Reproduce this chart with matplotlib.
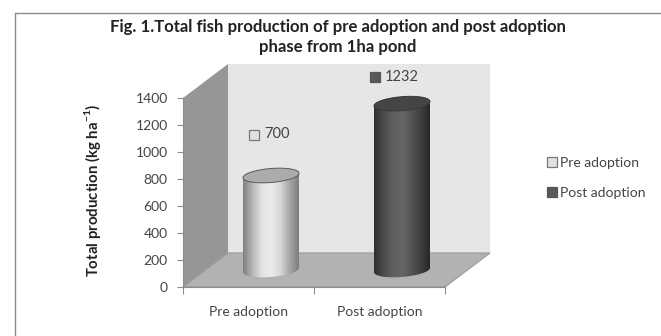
import numpy as np
import matplotlib
matplotlib.use("Agg")
import matplotlib.pyplot as plt
from matplotlib.patches import Polygon, Patch
from matplotlib.lines import Line2D
from matplotlib.colors import LinearSegmentedColormap

categories = ["Pre adoption", "Post adoption"]
production = [700, 1232]
y_ticks = [0, 200, 400, 600, 800, 1000, 1200, 1400]
title = "Fig. 1.Total fish production of pre adoption and post adoption\nphase from 1ha pond"
y_label = "Total production (kg ha$^{-1}$)"

plt.rcParams['font.family'] = ['Lato', 'DejaVu Sans']
plt.rcParams['mathtext.fontset'] = 'custom'
plt.rcParams['mathtext.rm'] = 'Lato:bold'

W, H = 661, 336
fig = plt.figure(figsize=(W/100, H/100), dpi=100)
ax = fig.add_axes([183/W, (H-287)/H, 262/W, 189/H])
ax.set_xlim(0, 2)
ax.set_ylim(0, 1400)

# data units per pixel, the 3d look is just offsets on top of the axes
ux = 2/262
uy = 1400/189
depth_x, depth_y = 45*ux, 34*uy
top = 1400

# walls and floor
ax.add_patch(Polygon([(depth_x, depth_y), (2+depth_x, depth_y), (2+depth_x, top+depth_y), (depth_x, top+depth_y)],
                     fc="#e6e6e6", ec="none", clip_on=False, zorder=1))
ax.add_patch(Polygon([(0, 0), (depth_x, depth_y), (depth_x, top+depth_y), (0, top)],
                     fc="#969696", ec="none", clip_on=False, zorder=1))
ax.add_patch(Polygon([(0, 0), (2, 0), (2+depth_x, depth_y), (depth_x, depth_y)],
                     fc="#b2b2b2", ec="#9a9a9a", lw=0.8, clip_on=False, zorder=1))

pre_cmap = LinearSegmentedColormap.from_list("pre", ["#7f7f7f", "#b5b5b5", "#e2e2e2", "#ececec", "#d8d8d8", "#a8a8a8", "#7c7c7c"])
post_cmap = LinearSegmentedColormap.from_list("post", ["#2e2e2e", "#4a4a4a", "#5f5f5f", "#666666", "#555555", "#404040", "#262626"])
cmaps = [pre_cmap, post_cmap]
cap_colors = ["#ababab", "#454545"]
cap_edges = ["#5a5a5a", "#3a3a3a"]

radius, semi, tilt = 28, 7, 2.2
t = np.linspace(0, 2*np.pi, 121)

def ring(cx, cy, tt):
    xs = cx + radius*ux*np.cos(tt)
    ys = cy + (semi*np.sin(tt) + tilt*np.cos(tt))*uy
    return np.column_stack([xs, ys])

# cylinders
for i, val in enumerate(production):
    cx = i + 0.5 + depth_x/2
    base = depth_y/2
    lower = ring(cx, base, np.linspace(np.pi, 2*np.pi, 61))
    upper = ring(cx, base+val, np.linspace(0, np.pi, 61))
    body = Polygon(np.vstack([lower, upper]), fc="none", ec="none", zorder=3)
    ax.add_patch(body)
    body.set_clip_on(False)
    img = ax.imshow(np.linspace(0, 1, 256).reshape(1, -1), cmap=cmaps[i], aspect="auto", zorder=3,
                    extent=[cx-radius*ux, cx+radius*ux, -20, val+300])
    img.set_clip_path(body)
    ax.add_patch(Polygon(ring(cx, base+val, t), fc=cap_colors[i], ec=cap_edges[i], lw=0.7,
                         clip_on=False, zorder=4))
ax.set_xlim(0, 2)
ax.set_ylim(0, 1400)

# value labels with their little square keys
label_offsets = [(253-270, 41), (374-401, 27)]
key_colors = ["#e2e2e2", "#595959"]
key_edges = ["#777777", "#555555"]
for i, val in enumerate(production):
    cx = i + 0.5 + depth_x/2
    ly = depth_y/2 + val + label_offsets[i][1]*uy
    lx = cx + label_offsets[i][0]*ux
    ax.plot([lx], [ly], "s", ms=6.5, mfc=key_colors[i], mec=key_edges[i], mew=0.9, clip_on=False, zorder=5)
    ax.text(lx + 10*ux, ly, str(val), fontsize=10.5, color="#444444", va="center", ha="left", zorder=5)

for s in ["top", "right"]:
    ax.spines[s].set_visible(False)
for s in ["left", "bottom"]:
    ax.spines[s].set_color("#8c8c8c")
    ax.spines[s].set_linewidth(0.8)
    ax.spines[s].set_zorder(2)

ax.set_yticks(y_ticks)
ax.set_xticks([0, 1, 2])
ax.set_xticklabels([])
ax.set_xticks([0.5, 1.5], categories, minor=True)
ax.tick_params(axis="y", length=4, width=0.8, color="#8c8c8c", labelcolor="#444444", labelsize=10, pad=7)
ax.tick_params(axis="x", which="major", length=5, width=0.8, color="#8c8c8c")
ax.tick_params(axis="x", which="minor", length=0, labelcolor="#444444", labelsize=10, pad=14)

fig.text(338/W, 1-37/H, title, fontsize=12.1, fontweight="bold", color="#222222",
         ha="center", va="center", linespacing=1.27)
fig.text(93/W, 1-190/H, y_label, fontsize=10.8, fontweight="bold", color="#222222",
         rotation=90, ha="center", va="center")

handles = [Patch(fc=key_colors[i], ec=key_edges[i], lw=0.9) for i in range(2)]
fig.legend(handles, categories, loc="center left", bbox_to_anchor=(547/W, 1-178/H), frameon=False,
           fontsize=10, labelcolor="#444444", handlelength=0.72, handleheight=0.72, handletextpad=0.25,
           labelspacing=1.3, borderpad=0, borderaxespad=0)

# outer chart frame, runs off the right and bottom edges
fig.add_artist(Line2D([15/W, 15/W, 1], [0, 1-12.5/H, 1-12.5/H], color="#8a8a8a", lw=1.0))

fig.savefig("out.png", dpi=100)
